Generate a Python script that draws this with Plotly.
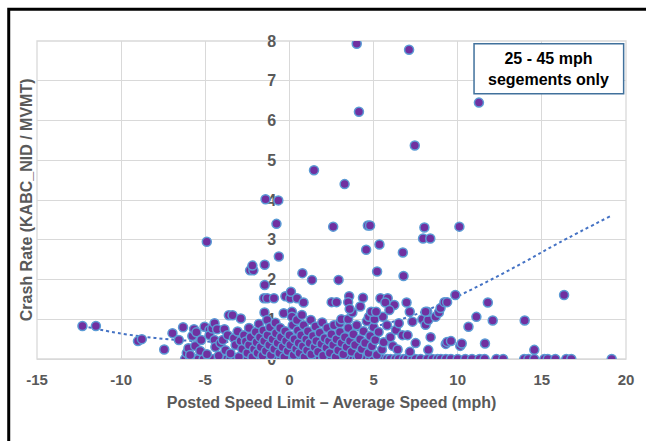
import plotly.graph_objects as go

# ---- data ----
# points lying on the zero line (crash rate = 0)
zero_x = [-6.2, -5.9, -5.6, -5.4, -5.1, -4.8, -4.5, -4.2, -4.0, -3.7, -3.5, -3.2, -3.0, -2.7,
          -2.5, -2.2, -2.0, -1.7, -1.5, -1.2, -1.0, -0.7, -0.5, -0.2, 0.0, 0.3, 0.5, 0.8, 1.0,
          1.3, 1.5, 1.8, 2.0, 2.3, 2.5, 2.8, 3.0, 3.3, 3.5, 3.8, 4.0, 4.3, 4.5, 4.8, 5.0, 5.3,
          5.5, 5.8, 6.0, 6.3, 6.5, 6.8, 7.0, 7.3, 7.5, 7.8, 8.2, 8.5, 8.8, 9.0, 9.3, 9.6, 10.0,
          10.45, 10.85, 11.3, 11.6, 12.3, 12.7, 13.95, 14.2, 14.55, 15.15, 15.35, 15.8, 16.45,
          16.75, 19.15]

# low band (0 < rate < 1.3)
cluster_x = [-12.3, -11.5, -9.0, -8.77, -7.44, -6.95, -6.32, -6.57, -5.77, -5.67, -6.1, -6.0,
             -5.9, -5.6, -5.53, -5.3, -5.24, -5.04, -4.9, -4.75, -4.75, -4.59, -4.45, -4.45, -4.3,
             -4.4, -4.2, -4.1, -3.96, -3.86, -3.8, -3.67, -3.6, -3.38, -3.5, -3.3, -3.2, -3.08,
             -3.0, -2.89, -2.9, -2.8, -2.7, -2.59, -2.5, -2.4, -2.4, -2.3, -2.2, -2.1, -2.0,
             -1.95, -1.9, -1.81, -1.75, -1.7, -1.6, -1.55, -1.5, -1.48, -1.4, -1.32, -1.3, -1.2,
             -1.15, -1.1, -1.0, -0.9, -0.83, -0.8, -0.7, -0.6, -0.55, -0.5, -0.4, -0.34, -0.3,
             -0.25, -0.2, -0.1, 0.0, 0.05, 0.15, 0.15, 0.2, 0.25, 0.3, 0.4, 0.45, 0.5, 0.55, 0.6,
             0.7, 0.74, 0.8, 0.85, 0.9, 1.0, 1.05, 1.1, 1.2, 1.27, 1.3, 1.4, 1.5, 1.55, 1.6, 1.7,
             1.8, 1.9, 1.95, 2.0, 2.1, 2.2, 2.25, 2.35, 2.4, 2.5, 2.6, 2.65, 2.75, 2.8, 2.9, 2.99,
             3.0, 3.09, 3.1, 3.2, 3.3, 3.4, 3.49, 3.5, 3.6, 3.7, 3.74, 3.8, 3.9, 4.0, 4.1, 4.2,
             4.3, 4.4, 4.5, 4.6, 4.7, 4.72, 4.8, 4.9, 5.0, 5.05, 5.1, 5.2, 5.3, 5.5, 5.55, 5.6,
             5.8, 6.0, 6.14, 6.33, 6.43, 6.5, 6.72, 7.02, 7.16, 7.31, 7.5, 7.9, 8.09, 8.25, 8.25,
             8.39, 8.68, 8.88, 8.98, 8.19, 9.29, 9.37, 9.6, 10.15, 10.24, 10.64, 11.11, 11.62,
             12.08, 13.98, 14.55]
cluster_y = [0.83, 0.83, 0.45, 0.50, 0.24, 0.65, 0.80, 0.48, 0.58, 0.75, 0.15, 0.27,
             0.10, 0.33, 0.67, 0.20, 0.48, 0.81, 0.12, 0.73, 0.60, 0.77, 0.90, 0.48, 0.75,
             0.30, 0.08, 0.40, 0.48, 0.75, 0.22, 0.60, 1.10, 1.10, 0.14, 0.52, 0.35, 0.69,
             0.05, 1.02, 0.45, 0.25, 0.60, 0.44, 0.15, 0.78, 0.35, 0.55, 0.05, 0.25, 0.68,
             0.42, 0.15, 0.88, 0.55, 0.30, 0.08, 0.72, 0.45, 1.17, 0.20, 0.98, 0.60, 0.35,
             0.80, 0.10, 0.50, 0.25, 0.91, 0.65, 0.40, 0.15, 0.78, 0.55, 0.30, 1.15, 0.05,
             0.70, 0.45, 0.20, 0.60, 0.35, 1.19, 1.06, 0.85, 0.10, 0.50, 0.25, 0.98, 0.72, 0.40, 0.15,
             0.60, 1.11, 0.32, 0.85, 0.05, 0.50, 0.22, 0.70, 0.40, 0.98, 0.12, 0.58, 0.30, 0.82, 0.45, 0.18,
             0.66, 0.38, 0.92, 0.08, 0.52, 0.28, 0.78, 0.45, 0.15, 0.62, 0.35, 0.85, 0.05, 0.50, 0.22, 0.90,
             0.68, 1.00, 0.40, 0.12, 0.55, 0.30, 1.00, 0.78, 0.45, 0.18, 1.17, 0.62, 0.35, 0.85, 0.08, 0.50,
             0.25, 0.70, 0.40, 0.95, 0.15, 1.06, 0.58, 0.32, 0.80, 1.00, 0.48, 0.10, 0.68, 0.24, 1.06, 0.42,
             0.85, 0.55, 0.33, 0.73, 0.24, 0.90, 0.60, 0.60, 0.18, 0.94, 0.40, 1.00, 0.86, 0.23, 0.98,
             0.55, 1.06, 1.17, 1.28, 1.19, 0.38, 0.43, 0.45, 0.33, 0.39, 0.81, 1.06, 0.39,
             0.97, 0.97, 0.23]

# upper points (rate >= 1.2)
upper_x = [-1.51, -1.32, -0.92, -0.24, 0.05, 0.09, 0.45, 0.84, 2.51, 2.8, 3.55, 3.49, 4.21,
           4.37, 5.41, 5.84, 5.7, 6.23, 6.96, 5.94, 4.86, 5.15, 3.58, 7.15, 8.09, 9.21, 9.37,
           9.86, 11.79, 16.32, -1.47, -2.34, -2.14, -2.2, -1.47, 0.77, 1.34, 2.92, 5.21, 6.78,
           -0.63, -4.91, 4.56, 5.35, 6.74, 7.94, 8.37, 8.02, 10.1, 2.6, 4.66, 4.79, -0.77,
           -1.42, -0.66, 3.28, 1.46, 7.45, 4.13, 11.26, 4.0, 7.11]
upper_y = [1.53, 1.53, 1.53, 1.58, 1.53, 1.69, 1.53, 1.42, 1.43, 1.43, 1.58, 1.43, 1.32,
           1.54, 1.53, 1.53, 1.42, 1.36, 1.42, 1.23, 1.19, 1.19, 1.26, 1.19, 1.19, 1.43, 1.43,
           1.61, 1.42, 1.61, 1.86, 2.23, 2.23, 2.35, 2.37, 2.16, 1.99, 1.99, 2.20, 2.09,
           2.58, 2.95, 2.75, 2.88, 2.68, 3.03, 3.03, 3.31, 3.33, 3.33, 3.36, 3.36, 3.40,
           4.02, 3.99, 4.40, 4.75, 5.37, 6.22, 6.45, 7.93, 7.78]

# dotted trend line
trend_x = [-12.3, -10, -8, -6, -4, -2, 0, 2, 4, 6, 8, 10, 12, 14, 16, 19.1]
trend_y = [0.83, 0.64, 0.53, 0.46, 0.43, 0.44, 0.49, 0.58, 0.72, 0.92, 1.20, 1.58, 2.00,
           2.45, 2.92, 3.60]

x_ticks = [-15, -10, -5, 0, 5, 10, 15, 20]
x_tick_labels = ["-15", "-10", "-5", "0", "5", "10", "15", "20"]
y_ticks = [0, 1, 2, 3, 4, 5, 6, 7, 8]
y_tick_labels = ["0", "1", "2", "3", "4", "5", "6", "7", "8"]

all_x = zero_x + cluster_x + upper_x
all_y = [0.0] * len(zero_x) + cluster_y + upper_y

FONT = "Liberation Sans, Arial, sans-serif"
GRAY = "#595959"
GRID = "#d9d9d9"

fig = go.Figure()
fig.add_trace(go.Scatter(
    x=trend_x, y=trend_y, mode="lines",
    line=dict(color="#4472C4", width=2, dash="dot", shape="spline"),
    hoverinfo="skip"))
fig.add_trace(go.Scatter(
    x=all_x, y=all_y, mode="markers",
    marker=dict(size=9, color="#7030A0", line=dict(color="#5B9BD5", width=1.5))))

fig.update_layout(
    width=646, height=441,
    margin=dict(l=37, r=14, t=41, b=82),
    paper_bgcolor="white", plot_bgcolor="white",
    showlegend=False,
    font=dict(family=FONT, color=GRAY),
)
fig.update_xaxes(
    range=[-15, 20], tickvals=x_ticks, ticktext=x_tick_labels,
    showgrid=True, gridcolor=GRID, gridwidth=1.3, zeroline=False,
    showline=True, linecolor=GRID, linewidth=1.3,
    ticks="outside", ticklen=7, tickcolor="rgba(0,0,0,0)",
    tickfont=dict(family=FONT, size=15, color=GRAY, weight="bold"),
    title=dict(text="Posted Speed Limit – Average Speed (mph)",
               font=dict(family=FONT, size=16, color=GRAY, weight="bold"), standoff=9),
)
fig.update_yaxes(
    range=[0, 8], tickvals=y_ticks, ticktext=y_tick_labels,
    showgrid=True, gridcolor=GRID, gridwidth=1.3, zeroline=False, showline=False,
    anchor="free", position=15 / 35,
    ticks="outside", ticklen=10, tickcolor="rgba(0,0,0,0)",
    tickfont=dict(family=FONT, size=16, color=GRAY, weight="bold"),
    layer="below traces",
)

fig.add_shape(type="rect", xref="paper", yref="paper", x0=0, x1=1, y0=0, y1=1,
              line=dict(color=GRID, width=1.3), layer="below")
fig.add_shape(type="rect", xref="paper", yref="paper", x0=-0.048, x1=1.3, y0=-0.5, y1=1.100,
              line=dict(color="black", width=3), fillcolor="rgba(0,0,0,0)", layer="above")
fig.add_shape(type="rect", xref="paper", yref="paper", x0=0.742, x1=0.996, y0=0.834, y1=0.9915,
              line=dict(color="#41719C", width=1.5), fillcolor="white", layer="above")
fig.add_annotation(xref="paper", yref="paper", x=0.869, y=0.913,
                   text="<b>25 - 45 mph<br>segements only</b>", showarrow=False,
                   font=dict(family=FONT, size=16, color="black"),
                   xanchor="center", yanchor="middle", align="center")
fig.add_annotation(xref="paper", yref="paper", x=-0.0178, y=0.501, textangle=-90,
                   text="<b>Crash Rate (KABC_NID / MVMT)</b>", showarrow=False,
                   font=dict(family=FONT, size=16, color=GRAY),
                   xanchor="center", yanchor="middle")

fig.write_html("out.html", config={"displayModeBar": False},
               post_script="document.body.style.margin='0';document.body.style.overflow='hidden';")
